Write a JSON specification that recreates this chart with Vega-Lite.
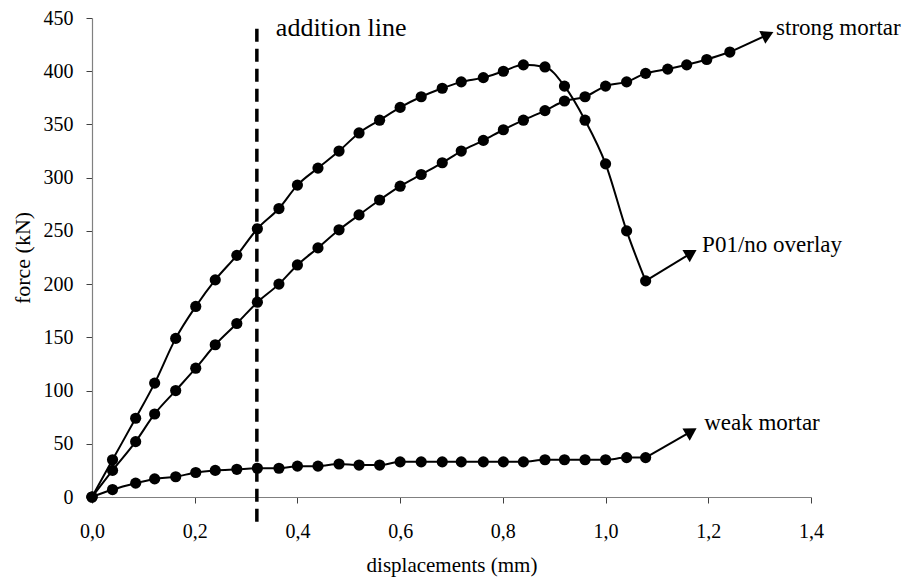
{
  "$schema": "https://vega.github.io/schema/vega-lite/v6.json",
  "autosize": "none",
  "width": 719,
  "height": 479,
  "padding": {"left": 92, "top": 18, "right": 91, "bottom": 88},
  "background": "white",
  "config": {
    "view": {"stroke": null},
    "font": "Liberation Serif",
    "axis": {
      "grid": false,
      "domainColor": "#808080",
      "domainWidth": 1.2,
      "tickColor": "#404040",
      "tickSize": 6,
      "labelFlush": false,
      "labelFont": "Liberation Serif",
      "labelFontSize": 20,
      "labelColor": "#000000",
      "titleFont": "Liberation Serif",
      "titleFontWeight": "normal",
      "titleColor": "#000000"
    }
  },
  "datasets": {
    "curves": [
      {"series": "P01/no overlay", "x": 0, "y": 0},
      {"series": "P01/no overlay", "x": 0.04, "y": 35},
      {"series": "P01/no overlay", "x": 0.085, "y": 74},
      {"series": "P01/no overlay", "x": 0.122, "y": 107},
      {"series": "P01/no overlay", "x": 0.163, "y": 149},
      {"series": "P01/no overlay", "x": 0.202, "y": 179},
      {"series": "P01/no overlay", "x": 0.24, "y": 204},
      {"series": "P01/no overlay", "x": 0.282, "y": 227},
      {"series": "P01/no overlay", "x": 0.322, "y": 252},
      {"series": "P01/no overlay", "x": 0.364, "y": 271},
      {"series": "P01/no overlay", "x": 0.4, "y": 293},
      {"series": "P01/no overlay", "x": 0.44, "y": 309},
      {"series": "P01/no overlay", "x": 0.481, "y": 325},
      {"series": "P01/no overlay", "x": 0.52, "y": 342},
      {"series": "P01/no overlay", "x": 0.56, "y": 354},
      {"series": "P01/no overlay", "x": 0.6, "y": 366},
      {"series": "P01/no overlay", "x": 0.641, "y": 376},
      {"series": "P01/no overlay", "x": 0.682, "y": 384},
      {"series": "P01/no overlay", "x": 0.719, "y": 390},
      {"series": "P01/no overlay", "x": 0.762, "y": 394},
      {"series": "P01/no overlay", "x": 0.801, "y": 400},
      {"series": "P01/no overlay", "x": 0.84, "y": 406},
      {"series": "P01/no overlay", "x": 0.882, "y": 404},
      {"series": "P01/no overlay", "x": 0.92, "y": 386},
      {"series": "P01/no overlay", "x": 0.96, "y": 354},
      {"series": "P01/no overlay", "x": 1.0, "y": 313},
      {"series": "P01/no overlay", "x": 1.041, "y": 250},
      {"series": "P01/no overlay", "x": 1.078, "y": 203},
      {"series": "strong mortar", "x": 0, "y": 0},
      {"series": "strong mortar", "x": 0.04, "y": 25},
      {"series": "strong mortar", "x": 0.085, "y": 52},
      {"series": "strong mortar", "x": 0.122, "y": 78},
      {"series": "strong mortar", "x": 0.163, "y": 100},
      {"series": "strong mortar", "x": 0.202, "y": 121},
      {"series": "strong mortar", "x": 0.24, "y": 143},
      {"series": "strong mortar", "x": 0.282, "y": 163},
      {"series": "strong mortar", "x": 0.322, "y": 183},
      {"series": "strong mortar", "x": 0.364, "y": 200},
      {"series": "strong mortar", "x": 0.4, "y": 218},
      {"series": "strong mortar", "x": 0.44, "y": 234},
      {"series": "strong mortar", "x": 0.481, "y": 251},
      {"series": "strong mortar", "x": 0.52, "y": 265},
      {"series": "strong mortar", "x": 0.56, "y": 279},
      {"series": "strong mortar", "x": 0.6, "y": 292},
      {"series": "strong mortar", "x": 0.641, "y": 303},
      {"series": "strong mortar", "x": 0.682, "y": 314},
      {"series": "strong mortar", "x": 0.719, "y": 325},
      {"series": "strong mortar", "x": 0.762, "y": 335},
      {"series": "strong mortar", "x": 0.801, "y": 345},
      {"series": "strong mortar", "x": 0.84, "y": 354},
      {"series": "strong mortar", "x": 0.882, "y": 363},
      {"series": "strong mortar", "x": 0.92, "y": 372},
      {"series": "strong mortar", "x": 0.96, "y": 376},
      {"series": "strong mortar", "x": 1.0, "y": 386},
      {"series": "strong mortar", "x": 1.041, "y": 390},
      {"series": "strong mortar", "x": 1.078, "y": 398},
      {"series": "strong mortar", "x": 1.121, "y": 402},
      {"series": "strong mortar", "x": 1.158, "y": 406},
      {"series": "strong mortar", "x": 1.197, "y": 411},
      {"series": "strong mortar", "x": 1.242, "y": 418},
      {"series": "weak mortar", "x": 0, "y": 0},
      {"series": "weak mortar", "x": 0.04, "y": 7},
      {"series": "weak mortar", "x": 0.085, "y": 13},
      {"series": "weak mortar", "x": 0.122, "y": 17},
      {"series": "weak mortar", "x": 0.163, "y": 19},
      {"series": "weak mortar", "x": 0.202, "y": 23},
      {"series": "weak mortar", "x": 0.24, "y": 25},
      {"series": "weak mortar", "x": 0.282, "y": 26},
      {"series": "weak mortar", "x": 0.322, "y": 27},
      {"series": "weak mortar", "x": 0.364, "y": 27},
      {"series": "weak mortar", "x": 0.4, "y": 29},
      {"series": "weak mortar", "x": 0.44, "y": 29},
      {"series": "weak mortar", "x": 0.481, "y": 31},
      {"series": "weak mortar", "x": 0.52, "y": 30},
      {"series": "weak mortar", "x": 0.56, "y": 30},
      {"series": "weak mortar", "x": 0.6, "y": 33},
      {"series": "weak mortar", "x": 0.641, "y": 33},
      {"series": "weak mortar", "x": 0.682, "y": 33},
      {"series": "weak mortar", "x": 0.719, "y": 33},
      {"series": "weak mortar", "x": 0.762, "y": 33},
      {"series": "weak mortar", "x": 0.801, "y": 33},
      {"series": "weak mortar", "x": 0.84, "y": 33},
      {"series": "weak mortar", "x": 0.882, "y": 35},
      {"series": "weak mortar", "x": 0.92, "y": 35},
      {"series": "weak mortar", "x": 0.96, "y": 35},
      {"series": "weak mortar", "x": 1.0, "y": 35},
      {"series": "weak mortar", "x": 1.041, "y": 37},
      {"series": "weak mortar", "x": 1.078, "y": 37}
    ],
    "arrows": [
      {"series": "strong mortar", "x": 1.242, "y": 418, "x2": 1.316, "y2": 434.3},
      {"series": "P01/no overlay", "x": 1.078, "y": 203, "x2": 1.167, "y2": 229.2},
      {"series": "weak mortar", "x": 1.078, "y": 37, "x2": 1.167, "y2": 61.6}
    ],
    "labels": [
      {"text": "strong mortar", "x": 1.332, "y": 440.8},
      {"text": "P01/no overlay", "x": 1.188, "y": 236.8},
      {"text": "weak mortar", "x": 1.192, "y": 69.5}
    ],
    "title": [
      {"text": "addition line", "x": 0.358, "y": 440.3}
    ],
    "addline": [
      {"x": 0.321, "y": 440, "y2": -27}
    ]
  },
  "layer": [
    {
      "data": {"name": "addline"},
      "mark": {"type": "rule", "color": "#000000", "strokeWidth": 3.5, "strokeDash": [13, 7]},
      "encoding": {
        "x": {"field": "x", "type": "quantitative"},
        "y": {"field": "y", "type": "quantitative"},
        "y2": {"field": "y2"}
      }
    },
    {
      "data": {"name": "curves"},
      "mark": {"type": "line", "color": "#000000", "strokeWidth": 2, "interpolate": "monotone"},
      "encoding": {
        "x": {
          "field": "x", "type": "quantitative",
          "scale": {"domain": [0, 1.4], "nice": false},
          "axis": {
            "title": "displacements (mm)",
            "titleFontSize": 21,
            "values": [0, 0.2, 0.4, 0.6, 0.8, 1.0, 1.2, 1.4],
            "labelExpr": "replace(format(datum.value, '.1f'), '.', ',')",
            "labelPadding": 18,
            "titlePadding": 13
          }
        },
        "y": {
          "field": "y", "type": "quantitative",
          "scale": {"domain": [0, 450], "nice": false},
          "axis": {
            "title": "force (kN)",
            "titleFontSize": 22,
            "values": [0, 50, 100, 150, 200, 250, 300, 350, 400, 450],
            "labelPadding": 13,
            "titlePadding": 9
          }
        },
        "detail": {"field": "series"}
      }
    },
    {
      "data": {"name": "curves"},
      "mark": {"type": "point", "filled": true, "color": "#000000", "opacity": 1, "size": 125, "shape": "circle"},
      "encoding": {
        "x": {"field": "x", "type": "quantitative"},
        "y": {"field": "y", "type": "quantitative"}
      }
    },
    {
      "data": {"name": "arrows"},
      "mark": {"type": "rule", "color": "#000000", "strokeWidth": 2},
      "encoding": {
        "x": {"field": "x", "type": "quantitative"},
        "y": {"field": "y", "type": "quantitative"},
        "x2": {"field": "x2"},
        "y2": {"field": "y2"}
      }
    },
    {
      "data": {"name": "arrows"},
      "transform": [{"filter": "datum.series == 'strong mortar'"}],
      "mark": {"type": "point", "filled": true, "color": "#000000", "opacity": 1, "size": 200, "shape": "triangle-right", "angle": 335},
      "encoding": {
        "x": {"field": "x2", "type": "quantitative"},
        "y": {"field": "y2", "type": "quantitative"}
      }
    },
    {
      "data": {"name": "arrows"},
      "transform": [{"filter": "datum.series != 'strong mortar'"}],
      "mark": {"type": "point", "filled": true, "color": "#000000", "opacity": 1, "size": 200, "shape": "triangle-right", "angle": 329},
      "encoding": {
        "x": {"field": "x2", "type": "quantitative"},
        "y": {"field": "y2", "type": "quantitative"}
      }
    },
    {
      "data": {"name": "labels"},
      "mark": {"type": "text", "align": "left", "baseline": "middle", "font": "Liberation Serif", "fontSize": 23, "color": "#000000"},
      "encoding": {
        "x": {"field": "x", "type": "quantitative"},
        "y": {"field": "y", "type": "quantitative"},
        "text": {"field": "text"}
      }
    },
    {
      "data": {"name": "title"},
      "mark": {"type": "text", "align": "left", "baseline": "middle", "font": "Liberation Serif", "fontSize": 26, "color": "#000000"},
      "encoding": {
        "x": {"field": "x", "type": "quantitative"},
        "y": {"field": "y", "type": "quantitative"},
        "text": {"field": "text"}
      }
    }
  ]
}
